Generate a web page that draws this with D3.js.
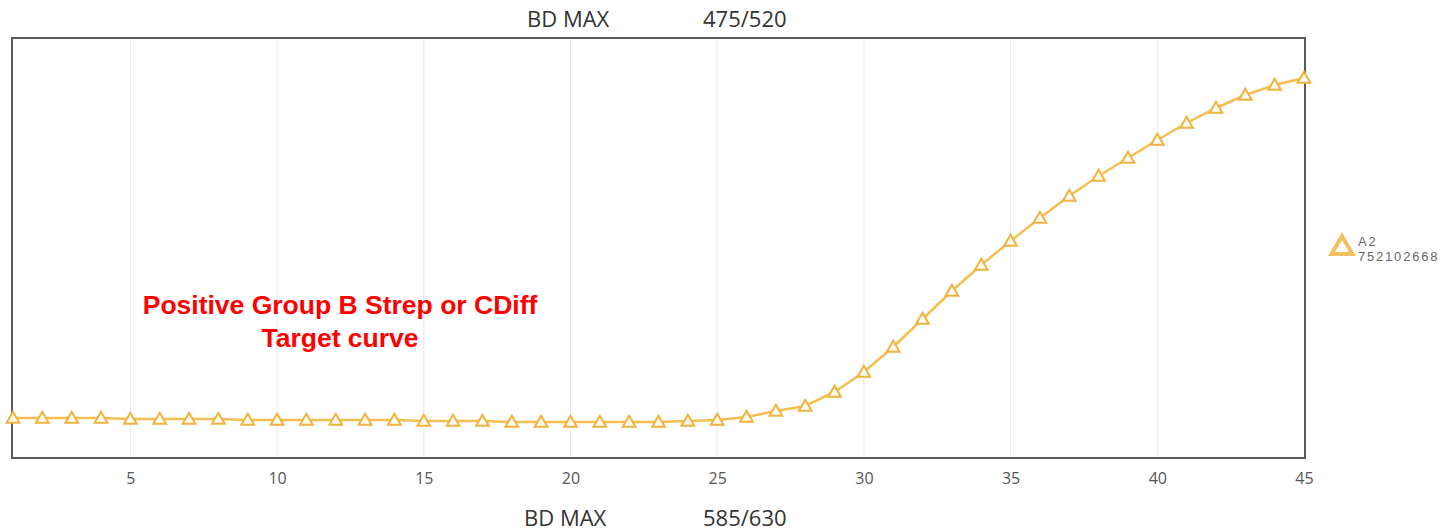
<!DOCTYPE html>
<html><head><meta charset="utf-8">
<script src="https://cdn.jsdelivr.net/npm/d3@7"></script>
<style>body{margin:0;background:#fff;}svg{display:block;}</style>
</head><body>
<svg id="chart" width="1445" height="532"></svg>
<script>
const cycles = d3.range(1, 46);
const seriesA2 = [40,40,40,40,39,39,39,39,38,38,38,38,38,38,37,37,37,36,36,36,36,36,36,37,38,41,47,52,66,86,111,139,167,193,217,240,262,282,300,318,335,350,363,373,380];
const xTicks = [5,10,15,20,25,30,35,40,45];
const legendLabels = ["A2", "752102668"];
const topTitle = ["BD MAX", "475/520"];
const bottomTitle = ["BD MAX", "585/630"];
const annotation = ["Positive Group B Strep or CDiff", "Target curve"];

const svg = d3.select("#chart");
const L = 12, R = 1305, T = 38, B = 458;
const x = d3.scaleLinear().domain([1, 45]).range([L + 1, R - 1]);
const y = d3.scaleLinear().domain([0, 420]).range([B, T]);

// grid
svg.append("g").selectAll("line").data(xTicks.slice(0, -1)).join("line")
  .attr("x1", d => x(d)).attr("x2", d => x(d)).attr("y1", T).attr("y2", B)
  .attr("stroke", "#e8e8e8").attr("stroke-width", 1);

// border
svg.append("rect").attr("x", L).attr("y", T).attr("width", R - L).attr("height", B - T)
  .attr("fill", "none").attr("stroke", "#5a5a5a").attr("stroke-width", 2);

// x axis
const xAxis = d3.axisBottom(x).tickValues(xTicks).tickSize(0).tickPadding(15);
const ax = svg.append("g").attr("transform", `translate(0,${B})`).call(xAxis);
ax.select(".domain").remove();
ax.selectAll("text").attr("font-family", "Open Sans, sans-serif").attr("font-size", 16).attr("fill", "#555");

// line
const line = d3.line().x((d, i) => x(cycles[i])).y(d => y(d));
svg.append("path").datum(seriesA2).attr("d", line).attr("fill", "none")
  .attr("stroke", "#f4bf50").attr("stroke-width", 2.5);

// markers
const tri = d3.symbol().type(d3.symbolTriangle).size(70);
svg.append("g").selectAll("path").data(seriesA2).join("path")
  .attr("d", tri)
  .attr("transform", (d, i) => `translate(${x(cycles[i])},${y(d) + 1})`)
  .attr("fill", "#fffaf0").attr("stroke", "#eeb43f").attr("stroke-width", 2);

// legend
svg.append("path").attr("d", d3.symbol().type(d3.symbolTriangle).size(190))
  .attr("transform", "translate(1342,248)")
  .attr("fill", "#fff").attr("stroke", "#f3c060").attr("stroke-width", 4);
svg.append("g").selectAll("text").data(legendLabels).join("text")
  .attr("x", 1358).attr("y", (d, i) => 245.5 + i * 15.5)
  .attr("font-family", "Liberation Sans, Arial, sans-serif").attr("font-size", 13)
  .attr("letter-spacing", 1.8).attr("fill", "#666")
  .text(d => d);

// titles
function title(arr, yy, x1) {
  svg.append("text").attr("x", x1).attr("y", yy)
    .attr("font-family", "Open Sans, sans-serif").attr("font-size", 22).attr("fill", "#333").text(arr[0]);
  svg.append("text").attr("x", 703).attr("y", yy)
    .attr("font-family", "Open Sans, sans-serif").attr("font-size", 22).attr("fill", "#333").text(arr[1]);
}
title(topTitle, 27, 527);
title(bottomTitle, 526, 524);

// annotation
svg.append("g").selectAll("text").data(annotation).join("text")
  .attr("x", 340).attr("y", (d, i) => 314 + i * 33).attr("text-anchor", "middle")
  .attr("font-family", "Liberation Sans, Arial, sans-serif").attr("font-weight", "bold")
  .attr("font-size", 26.5).attr("fill", "#ff0000").text(d => d);
</script>
</body></html>
